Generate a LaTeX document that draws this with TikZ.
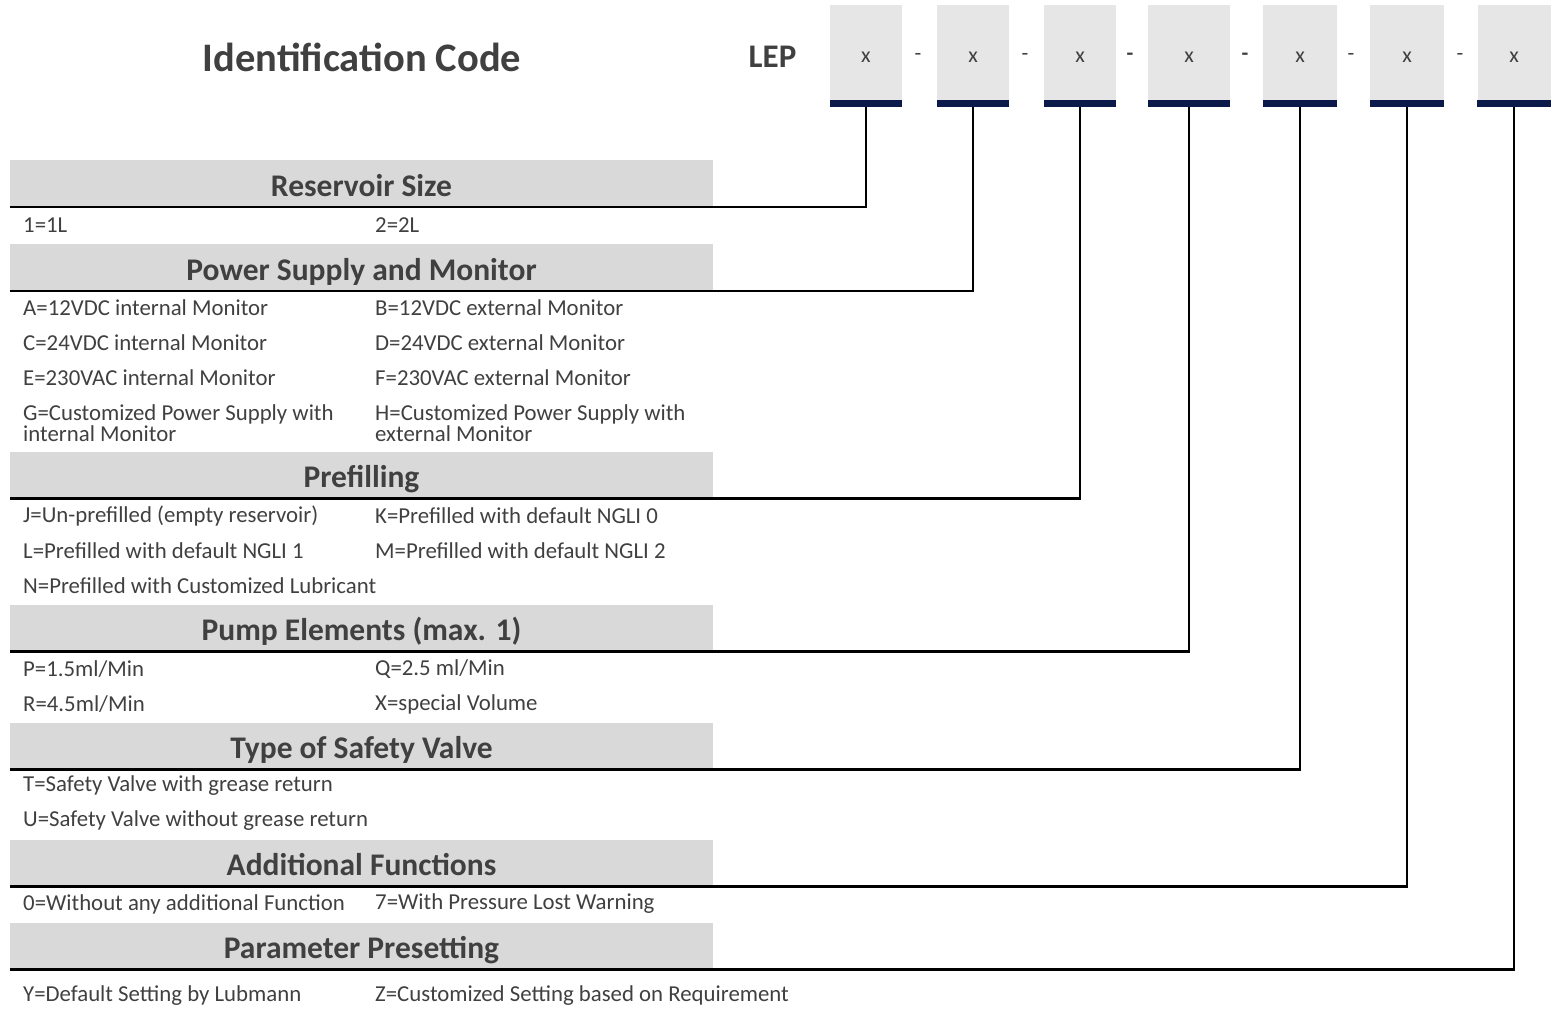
\documentclass[tikz,border=0pt]{standalone}
\usepackage{fontspec}
\setmainfont{Carlito}
\usetikzlibrary{positioning}
\definecolor{txtgray}{HTML}{404040}
\definecolor{bargray}{HTML}{D9D9D9}
\definecolor{boxgray}{HTML}{E6E6E6}
\definecolor{navyblue}{HTML}{0B1A4B}

\begin{document}
\begin{tikzpicture}[x=1pt, y=-1pt,
        codebox/.style={fill=boxgray, minimum height=95pt, inner sep=0pt, text height=20pt, text depth=0pt, text=txtgray, font=\fontsize{22}{24}\selectfont},
        headbar/.style={fill=bargray, minimum width=703pt, minimum height=47pt, inner sep=0pt, text height=25.5pt, text depth=0pt, text=txtgray, font=\bfseries\fontsize{31.5}{34}\selectfont},
        opt/.style={anchor=west, inner sep=0pt, text=txtgray, align=left, font=\fontsize{22.8}{21}\selectfont},
        sep/.style={text=txtgray, font=\fontsize{22}{24}\selectfont}]
    \useasboundingbox (0,0) rectangle (1554,1011);
    \node[text=txtgray, font=\bfseries\fontsize{40.5}{44}\selectfont] (title) at (362,57) {Identification Code};
    \node[text=txtgray, font=\bfseries\fontsize{33}{36}\selectfont] (lep) at (772.5,57) {LEP};
    \foreach \i/\cx/\w in {1/866/72, 2/973/72, 3/1080/72, 4/1189/82, 5/1300/74, 6/1407/74, 7/1514/73}{
        \node[codebox, minimum width=\w pt] (b\i) at (\cx,52.5) {x};
    }
    \foreach \i/\dx in {1/918, 2/1025, 5/1351, 6/1460}{
        \node[sep] (d\i) at (\dx,57) {-};
    }
    \node[sep, font=\bfseries\fontsize{22}{24}\selectfont] (d3) at (1130,57) {-};
    \node[sep, font=\bfseries\fontsize{22}{24}\selectfont] (d4) at (1245,57) {-};
    % header bars
    \foreach \i/\cy/\t in {1/183.5/Reservoir Size, 2/267.5/Power Supply and Monitor, 3/475/Prefilling,
        4/628/Pump Elements (max. 1), 5/746/Type of Safety Valve, 6/863/Additional Functions, 7/946/Parameter Presetting}{
        \node[headbar] (h\i) at (361.5,\cy) {\t};
    }
    \foreach \i in {1,...,7}{
        \draw[line width=2.5pt] (b\i.south) |- (h\i.south west);
        \fill[navyblue] (b\i.south west) rectangle ([yshift=-7pt]b\i.south east);
    }
    % options
    \node[opt] (r1a) at (23,225) {1=1L};
    \node[opt] (r1b) at (375,225) {2=2L};
    \node[opt] (p1a) at (23,308) {A=12VDC internal Monitor};
    \node[opt] (p1b) at (375,308) {B=12VDC external Monitor};
    \node[opt] (p2a) at (23,343) {C=24VDC internal Monitor};
    \node[opt] (p2b) at (375,343) {D=24VDC external Monitor};
    \node[opt] (p3a) at (23,378) {E=230VAC internal Monitor};
    \node[opt] (p3b) at (375,378) {F=230VAC external Monitor};
    \node[opt] (p4a) at (23,423.5) {G=Customized Power Supply with\\internal Monitor};
    \node[opt] (p4b) at (375,423.5) {H=Customized Power Supply with\\external Monitor};
    \node[opt] (f1a) at (23,516) {J=Un-prefilled (empty reservoir)};
    \node[opt] (f1b) at (375,516) {K=Prefilled with default NGLI 0};
    \node[opt] (f2a) at (23,551) {L=Prefilled with default NGLI 1};
    \node[opt] (f2b) at (375,551) {M=Prefilled with default NGLI 2};
    \node[opt] (f3a) at (23,586) {N=Prefilled with Customized Lubricant};
    \node[opt] (e1a) at (23,669) {P=1.5ml/Min};
    \node[opt] (e1b) at (375,669) {Q=2.5 ml/Min};
    \node[opt] (e2a) at (23,704) {R=4.5ml/Min};
    \node[opt] (e2b) at (375,704) {X=special Volume};
    \node[opt] (v1a) at (23,786) {T=Safety Valve with grease return};
    \node[opt] (v2a) at (23,821) {U=Safety Valve without grease return};
    \node[opt] (a1a) at (23,904) {0=Without any additional Function};
    \node[opt] (a1b) at (375,904) {7=With Pressure Lost Warning};
    \node[opt] (s1a) at (23,996) {Y=Default Setting by Lubmann};
    \node[opt] (s1b) at (375,996) {Z=Customized Setting based on Requirement};
\end{tikzpicture}
\end{document}
